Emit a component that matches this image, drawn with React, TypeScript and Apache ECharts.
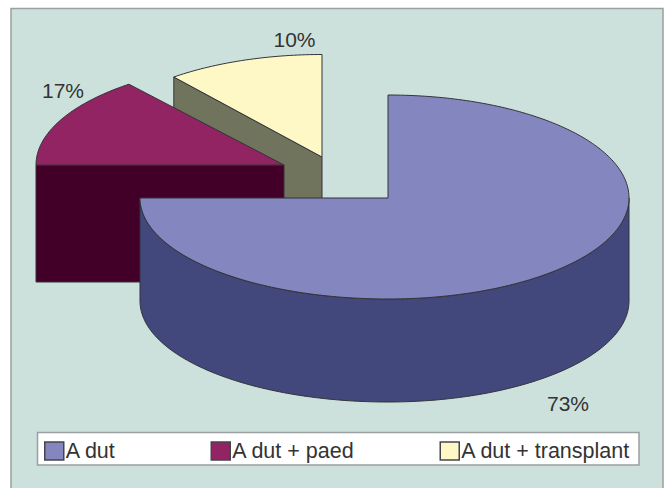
import React, { useEffect, useRef } from "react";
import * as echarts from "echarts";

// Legend names and the printed percentage labels of the reference.
const categories = ["A dut", "A dut + paed", "A dut + transplant"];
const percentLabels = ["73%", "17%", "10%"];
// Share of the full circle each slice visibly occupies in the picture (differs
// slightly from the printed labels: the source drawing is not exactly to scale).
const drawnShares = [75, 14.25, 10.75];

const topColors = ["#8386bf", "#922464", "#fef8c6"];
const sideColors = ["#43487c", "#420028", "#70745c"];

const EDGE = "#333338";
const FONT = "'Liberation Sans', Arial, sans-serif";
const TEXT = "#333333";

// Placement of each exploded slice: apex, piecewise radii and extrusion depth.
const sliceLayout = [
  { cx: 388, cy: 198, rxR: 241, rxL: 248, ryT: 103, ryB: 101, depth: 103 },
  { cx: 284, cy: 165, rxR: 241, rxL: 248, ryT: 103.5, ryB: 101, depth: 117 },
  { cx: 322, cy: 157, rxR: 241, rxL: 237, ryT: 102.5, ryB: 101, depth: 117 },
];
const labelLayout = [
  { x: 568, y: 403 },
  { x: 63, y: 90 },
  { x: 294.5, y: 39.5 },
];
const legendLayout = [
  { left: 44, textTop: 0 },
  { left: 210.5, textTop: -1.5 },
  { left: 439.5, textTop: -1.5 },
];

type L = (typeof sliceLayout)[number];

function pointAt(l: L, deg: number, dy = 0): number[] {
  const a = (deg * Math.PI) / 180;
  const s = Math.sin(a);
  const c = Math.cos(a);
  return [l.cx + (s >= 0 ? l.rxR : l.rxL) * s, l.cy - (c >= 0 ? l.ryT : l.ryB) * c + dy];
}

function arcPoints(l: L, from: number, to: number, dy = 0): number[][] {
  const pts: number[][] = [];
  const steps = Math.max(2, Math.ceil(Math.abs(to - from)));
  for (let i = 0; i <= steps; i++) pts.push(pointAt(l, from + ((to - from) * i) / steps, dy));
  return pts;
}

function sliceRenderer(index: number) {
  return (_params: any, api: any) => {
    const total = drawnShares.reduce((a, b) => a + b, 0);
    const before = drawnShares.slice(0, index).reduce((a, b) => a + b, 0);
    const start = (before / total) * 360;
    const end = start + (api.value(0) / total) * 360;
    const l = sliceLayout[index];
    const children: any[] = [];
    const side = { fill: sideColors[index], stroke: EDGE, lineWidth: 1 };

    if (start > 180 && start < 360) {
      const p = pointAt(l, start);
      children.push({
        type: "polygon",
        shape: { points: [[l.cx, l.cy], p, [p[0], p[1] + l.depth], [l.cx, l.cy + l.depth]] },
        style: side,
      });
    }
    const from = Math.max(start, 90);
    const to = Math.min(end, 270);
    if (to > from) {
      children.push({
        type: "polygon",
        shape: { points: [...arcPoints(l, from, to), ...arcPoints(l, to, from, l.depth)] },
        style: side,
      });
    }
    children.push({
      type: "polygon",
      shape: { points: [[l.cx, l.cy], ...arcPoints(l, start, end)] },
      style: { fill: topColors[index], stroke: EDGE, lineWidth: 1 },
    });
    children.push({
      type: "text",
      style: {
        text: percentLabels[index],
        x: labelLayout[index].x,
        y: labelLayout[index].y,
        textAlign: "center",
        textVerticalAlign: "middle",
        fill: TEXT,
        fontSize: 21,
        fontFamily: FONT,
      },
    });
    return { type: "group", children };
  };
}

export default function App() {
  const ref = useRef<HTMLDivElement>(null);
  useEffect(() => {
    const chart = echarts.init(ref.current!, null, { renderer: "svg" });
    chart.setOption({
      animation: false,
      backgroundColor: "#ffffff",
      graphic: [
        {
          type: "rect",
          z: 0,
          shape: { x: 11, y: 8.5, width: 652, height: 490 },
          style: { fill: "#cde1dc", stroke: "#9a9fa0", lineWidth: 1.5 },
        },
        {
          type: "rect",
          z: 1,
          shape: { x: 37.5, y: 432.5, width: 601.5, height: 32.5 },
          style: { fill: "#ffffff", stroke: "#9a9fa0", lineWidth: 1.5 },
        },
      ],
      legend: categories.map((name, i) => ({
        left: legendLayout[i].left,
        top: 440,
        padding: 0,
        orient: "horizontal",
        itemWidth: 19,
        itemHeight: 18,
        selectedMode: false,
        z: 5,
        textStyle: {
          fontFamily: FONT,
          fontSize: 21.5,
          color: TEXT,
          height: 18,
          lineHeight: 18,
          padding: [legendLayout[i].textTop, 0, 0, -3],
        },
        data: [
          {
            name,
            icon: "rect",
            itemStyle: { color: topColors[i], borderColor: "#45454a", borderWidth: 1.5 },
          },
        ],
      })),
      series: categories.map((name, i) => ({
        type: "custom",
        name,
        coordinateSystem: "none",
        z: 4 - i,
        itemStyle: { color: topColors[i] },
        data: [[drawnShares[i]]],
        renderItem: sliceRenderer(i),
        silent: true,
      })),
    });
    return () => chart.dispose();
  }, []);
  return (
    <div
      ref={ref}
      style={{ position: "fixed", left: 0, top: 0, width: 667, height: 488 }}
    />
  );
}
